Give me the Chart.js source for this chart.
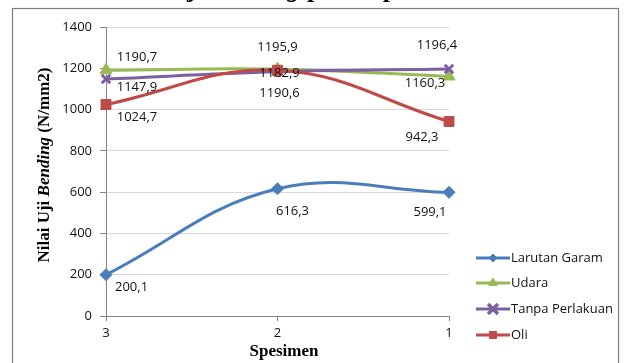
<!DOCTYPE html>
<html><head><meta charset="utf-8">
<script src="https://cdn.jsdelivr.net/npm/chart.js@4"></script>
<style>html,body{margin:0;padding:0;background:#fff;}canvas{display:block;}</style>
</head><body>
<canvas id="c" width="626" height="363"></canvas>
<script>
// ---- data ----
const categories = ['3', '2', '1'];
const seriesNames = ['Larutan Garam', 'Udara', 'Tanpa Perlakuan', 'Oli'];
const larutanGaram = [200.1, 616.3, 599.1];
const udara = [1190.7, 1195.9, 1160.3];
const tanpaPerlakuan = [1147.9, 1182.9, 1196.4];
const oli = [1024.7, 1190.6, 942.3];
const yTickValues = [0, 200, 400, 600, 800, 1000, 1200, 1400];
const yTitleParts = ['Nilai Uji ', 'Bending', ' (N/mm2)'];
const xTitle = 'Spesimen';
const titleParts = ['Grafik Nilai Uji ', 'Bending', ' pada Spesimen'];

// ---- styles ----
const colors = ['#4a7ebb', '#98b954', '#7d60a0', '#be4b48'];
const pointStyles = ['rectRot', 'triangle', 'crossRot', 'rect'];
const pointRadii = [6, 7, 6, 7];
const legendRadii = [4, 5, 7, 5];
const TXT = '"Open Sans", "Noto Sans", sans-serif';
const SERIF = '"Liberation Serif", "DejaVu Serif", serif';

// label offsets relative to each point: [dx, dy, align]
const labelOffsets = [
  [[9, 13, 'left'], [15, 23, 'center'], [-19, 20, 'center']],
  [[31, -13, 'center'], [0, -22, 'center'], [-24, 7, 'center']],
  [[31, 8, 'center'], [2, 1, 'center'], [-12, -24, 'center']],
  [[31, 13, 'center'], [2, 23, 'center'], [-27, 16, 'center']]
];

const allSeries = [larutanGaram, udara, tanpaPerlakuan, oli];
const fmt = v => v.toFixed(1).replace('.', ',');

const datasets = allSeries.map((d, i) => ({
  label: seriesNames[i],
  data: d,
  borderColor: colors[i],
  backgroundColor: colors[i],
  pointBackgroundColor: colors[i],
  pointBorderColor: colors[i],
  pointStyle: pointStyles[i],
  pointRadius: pointRadii[i],
  pointBorderWidth: i === 2 ? 3 : 1,
  borderWidth: 3,
  tension: 0.4,
  fill: false,
  order: 3 - i
}));

const decor = {
  id: 'decor',
  beforeDraw(chart) {
    const ctx = chart.ctx;
    ctx.save();
    ctx.fillStyle = '#fff';
    ctx.fillRect(0, 0, chart.width, chart.height);
    ctx.strokeStyle = '#7f7f7f';
    ctx.lineWidth = 1.2;
    ctx.strokeRect(12.5, 8.5, 606, 380);
    ctx.restore();
  },
  afterDraw(chart) {
    const ctx = chart.ctx;
    ctx.save();
    // partial title at top (cut off by the page edge)
    const fB = 'bold 26px ' + SERIF, fBI = 'italic bold 26px ' + SERIF;
    ctx.font = fB;
    const pre = titleParts[0];
    const jIdx = pre.indexOf('j');
    const jx = ctx.measureText(pre.substring(0, jIdx)).width;
    let x = 187 - jx;
    const by = -3;
    ctx.fillStyle = '#000';
    ctx.textBaseline = 'alphabetic';
    ctx.textAlign = 'left';
    ctx.fillText(pre, x, by); x += ctx.measureText(pre).width;
    ctx.font = fBI; ctx.fillText(titleParts[1], x, by); x += ctx.measureText(titleParts[1]).width;
    ctx.font = fB; ctx.fillText(titleParts[2], x, by);
    ctx.strokeStyle = '#7f7f7f'; ctx.lineWidth = 1.2;
    ctx.beginPath(); ctx.moveTo(12.5, 8.5); ctx.lineTo(618.5, 8.5); ctx.stroke();

    // data labels
    ctx.font = '13px ' + TXT;
    ctx.fillStyle = '#111';
    ctx.textBaseline = 'middle';
    chart.data.datasets.forEach((ds, di) => {
      const meta = chart.getDatasetMeta(di);
      meta.data.forEach((pt, pi) => {
        const o = labelOffsets[di][pi];
        ctx.textAlign = o[2];
        ctx.fillText(fmt(ds.data[pi]), pt.x + o[0], pt.y + o[1]);
      });
    });

    // axis titles
    ctx.fillStyle = '#000';
    ctx.save();
    ctx.translate(45, 165);
    ctx.rotate(-Math.PI / 2);
    const ft = 'bold 17px ' + SERIF, fti = 'italic bold 17px ' + SERIF;
    let w = 0;
    const fonts = [ft, fti, ft];
    yTitleParts.forEach((p, i) => { ctx.font = fonts[i]; w += ctx.measureText(p).width; });
    let tx = -w / 2;
    ctx.textAlign = 'left';
    yTitleParts.forEach((p, i) => { ctx.font = fonts[i]; ctx.fillText(p, tx, 0); tx += ctx.measureText(p).width; });
    ctx.restore();
    ctx.font = ft;
    ctx.textAlign = 'center';
    ctx.fillText(xTitle, 284, 352);

    // legend
    const rows = [258, 283, 309, 335];
    chart.data.datasets.forEach((ds, i) => {
      const y = rows[i];
      ctx.strokeStyle = colors[i];
      ctx.lineWidth = 3;
      ctx.beginPath(); ctx.moveTo(476, y); ctx.lineTo(510, y); ctx.stroke();
      ctx.fillStyle = colors[i];
      ctx.lineWidth = i === 2 ? 3.5 : 1;
      Chart.helpers.drawPoint(ctx, { pointStyle: pointStyles[i], radius: legendRadii[i], borderWidth: i === 2 ? 3.5 : 1, rotation: 0 }, 493, y);
      ctx.fillStyle = '#111';
      ctx.font = '13px ' + TXT;
      ctx.textAlign = 'left';
      ctx.textBaseline = 'middle';
      ctx.fillText(ds.label, 511, y);
    });
    ctx.restore();
  }
};

new Chart(document.getElementById('c'), {
  type: 'line',
  data: { labels: categories, datasets },
  options: {
    responsive: false,
    animation: false,
    devicePixelRatio: 1,
    layout: { padding: { left: 0, top: 27, right: 177, bottom: 0 } },
    plugins: { legend: { display: false }, tooltip: { enabled: false } },
    scales: {
      x: {
        offset: false,
        grid: { drawOnChartArea: false, drawTicks: true, tickLength: 5, tickColor: '#868686' },
        border: { color: '#868686', width: 1 },
        ticks: { font: { family: TXT, size: 13 }, color: '#111', padding: 4, maxRotation: 0 },
        afterFit(s) { s.height = 47; }
      },
      y: {
        min: 0, max: 1400,
        afterBuildTicks(s) { s.ticks = yTickValues.map(v => ({ value: v })); },
        grid: { color: '#d9d9d9', tickLength: 6, tickColor: '#868686' },
        border: { color: '#868686', width: 1 },
        ticks: { font: { family: TXT, size: 13 }, color: '#111', padding: 8, callback: v => String(v) },
        afterFit(s) { s.width = 106; }
      }
    }
  },
  plugins: [decor]
});
</script>
</body></html>
